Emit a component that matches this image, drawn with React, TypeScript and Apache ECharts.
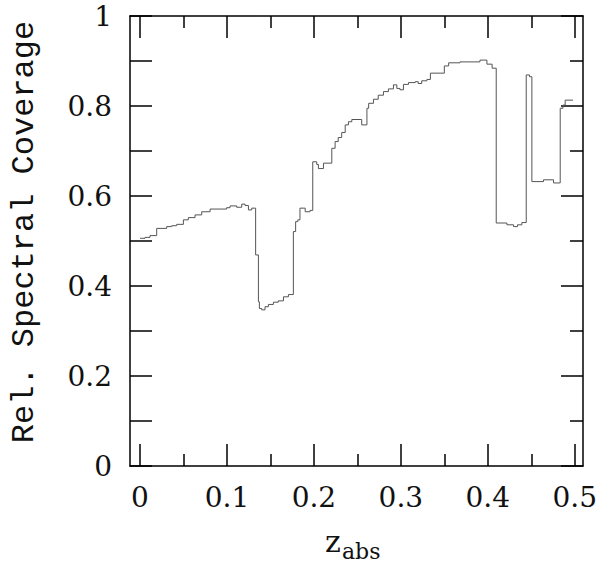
import React, { useEffect, useRef } from "react";
import * as echarts from "echarts";

// redshift at which each step begins (last entry = end of the curve)
const zAbs = [
  0.0, 0.0058, 0.0115, 0.0192, 0.0307, 0.0365, 0.0422, 0.0499, 0.0556, 0.0633,
  0.071, 0.0806, 0.0997, 0.1036, 0.1112, 0.117, 0.1208, 0.1247, 0.1285, 0.133,
  0.1362, 0.1373, 0.14, 0.1438, 0.1477, 0.1534, 0.159, 0.165, 0.1707, 0.1764,
  0.179, 0.1815, 0.184, 0.19, 0.1956, 0.1987, 0.2033, 0.2052, 0.211, 0.2206,
  0.2244, 0.228, 0.232, 0.236, 0.2397, 0.2436, 0.255, 0.261, 0.263, 0.2685,
  0.274, 0.28, 0.2857, 0.2915, 0.2954, 0.299, 0.303, 0.3088, 0.3165, 0.32,
  0.324, 0.33, 0.334, 0.35, 0.355, 0.368, 0.391, 0.399, 0.405, 0.4097,
  0.422, 0.4296, 0.4342, 0.4392, 0.4442, 0.448, 0.4507, 0.4641, 0.4756, 0.4833,
  0.4864, 0.489, 0.498,
];

// relative spectral coverage of each step
const coverage = [
  0.506, 0.508, 0.512, 0.528, 0.532, 0.534, 0.537, 0.547, 0.552, 0.558,
  0.565, 0.571, 0.574, 0.578, 0.575, 0.582, 0.579, 0.569, 0.573, 0.469,
  0.365, 0.35, 0.347, 0.354, 0.359, 0.364, 0.367, 0.376, 0.381, 0.521,
  0.543, 0.547, 0.573, 0.565, 0.568, 0.676, 0.67, 0.661, 0.673, 0.706,
  0.721, 0.73, 0.741, 0.758, 0.765, 0.77, 0.758, 0.795, 0.806, 0.815,
  0.824, 0.832, 0.838, 0.847, 0.839, 0.836, 0.848, 0.852, 0.854, 0.85,
  0.856, 0.859, 0.873, 0.889, 0.896, 0.898, 0.902, 0.893, 0.884, 0.54,
  0.536, 0.532, 0.536, 0.541, 0.869, 0.865, 0.632, 0.636, 0.629, 0.795,
  0.802, 0.813, 0.813,
];

const xMajorTicks = [0, 0.1, 0.2, 0.3, 0.4, 0.5];
const xMinorTicks = [0.05, 0.15, 0.25, 0.35, 0.45];
const yLabelTicks = [0, 0.2, 0.4, 0.6, 0.8, 1];
const yAllTicks = [0, 0.1, 0.2, 0.3, 0.4, 0.5, 0.6, 0.7, 0.8, 0.9, 1];
const yMinorTicks = [0.1, 0.3, 0.5, 0.7, 0.9];

const X_MIN = -0.0115;
const X_MAX = 0.5095;
const TICK_FONT = "DejaVu Serif";
const NAME_FONT = "Liberation Mono";
const fmt = (v: number) => String(+Number(v).toFixed(2));

export default function App() {
  const ref = useRef<HTMLDivElement>(null);
  useEffect(() => {
    const chart = echarts.init(ref.current!, null, { renderer: "svg" });
    const line = { lineStyle: { color: "#000", width: 1.5 } };
    const baseX = (position: string, ticks: number[], len: number, showLine: boolean, labels: boolean) => ({
      type: "value",
      position,
      min: X_MIN,
      max: X_MAX,
      axisLine: { show: showLine, onZero: false, ...line },
      splitLine: { show: false },
      axisTick: { show: true, inside: true, length: len, customValues: ticks, ...line },
      axisLabel: labels
        ? {
            show: true,
            customValues: xMajorTicks,
            formatter: fmt,
            margin: 17,
            fontFamily: TICK_FONT,
            fontSize: 28,
            color: "#111",
          }
        : { show: false },
    });
    const baseY = (position: string, ticks: number[], len: number, showLine: boolean, labels: boolean) => ({
      type: "value",
      position,
      min: 0,
      max: 1,
      axisLine: { show: showLine, onZero: false, ...line },
      splitLine: { show: false },
      axisTick: { show: true, inside: true, length: len, customValues: ticks, ...line },
      axisLabel: labels
        ? {
            show: true,
            customValues: yLabelTicks,
            formatter: fmt,
            margin: 18,
            fontFamily: TICK_FONT,
            fontSize: 28,
            color: "#111",
          }
        : { show: false },
    });

    chart.setOption({
      animation: false,
      backgroundColor: "#fff",
      grid: { left: 130, right: 17, top: 16, bottom: 97, containLabel: false },
      xAxis: [
        baseX("bottom", xMajorTicks, 22, true, true),
        baseX("bottom", xMinorTicks, 12, false, false),
        baseX("top", xMajorTicks, 22, true, false),
        baseX("top", xMinorTicks, 12, false, false),
      ],
      yAxis: [
        baseY("left", yAllTicks, 22, true, true),
        baseY("right", yLabelTicks, 22, true, false),
        baseY("right", yMinorTicks, 13, false, false),
      ],
      graphic: [
        {
          type: "text",
          x: 24,
          y: 232,
          rotation: Math.PI / 2,
          style: {
            text: "Rel. Spectral Coverage",
            fontFamily: NAME_FONT,
            fontSize: 32,
            fill: "#111",
            align: "center",
            verticalAlign: "middle",
          },
        },
        {
          type: "text",
          x: 325,
          y: 541,
          style: {
            text: "z",
            fontFamily: TICK_FONT,
            fontSize: 30,
            fill: "#111",
            align: "left",
            verticalAlign: "middle",
          },
        },
        {
          type: "text",
          x: 342,
          y: 551,
          style: {
            text: "abs",
            fontFamily: TICK_FONT,
            fontSize: 22,
            fill: "#111",
            align: "left",
            verticalAlign: "middle",
          },
        },
      ],
      series: [
        {
          type: "line",
          xAxisIndex: 0,
          yAxisIndex: 0,
          step: "end",
          showSymbol: false,
          symbol: "none",
          lineStyle: { color: "#555", width: 1 },
          data: zAbs.map((z, i) => [z, coverage[i]]),
        },
      ],
    });
    return () => chart.dispose();
  }, []);
  return (
    <div
      ref={ref}
      style={{ position: "absolute", left: 0, top: 0, width: 600, height: 563, background: "#fff" }}
    />
  );
}
